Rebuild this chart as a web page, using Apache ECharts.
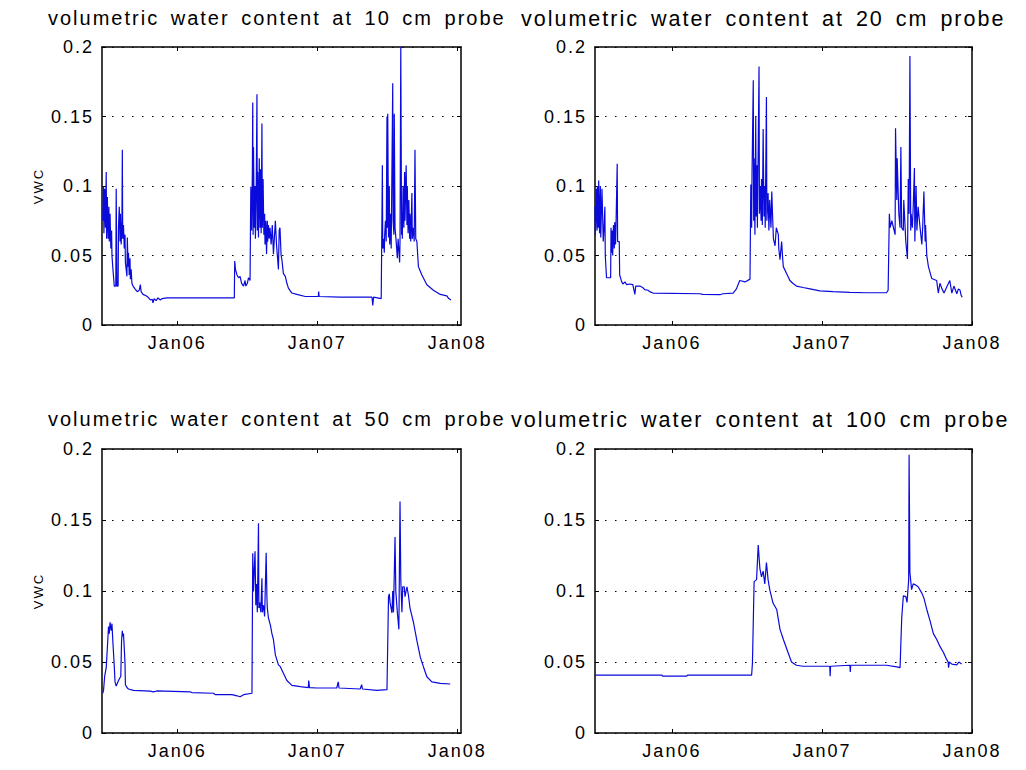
<!DOCTYPE html>
<html>
<head>
<meta charset="utf-8">
<script src="https://cdn.jsdelivr.net/npm/echarts@6/dist/echarts.min.js"></script>
<style>
  html, body { margin: 0; padding: 0; background: #fff; }
  #main { width: 1026px; height: 770px; }
  #main text { letter-spacing: 2px; word-spacing: 4px; }
</style>
</head>
<body>
<div id="main"></div>
<script>
// volumetric water content (date, VWC)
var vwc10 = [
  ['2005-06-21',0.075],['2005-06-23',0.100],['2005-06-24',0.066],['2005-06-26',0.098],['2005-06-28',0.070],
  ['2005-06-30',0.110],['2005-07-01',0.062],['2005-07-03',0.092],['2005-07-05',0.062],['2005-07-07',0.085],
  ['2005-07-08',0.060],['2005-07-10',0.080],['2005-07-12',0.055],['2005-07-14',0.068],['2005-07-15',0.050],
  ['2005-07-17',0.042],['2005-07-19',0.035],['2005-07-21',0.028],['2005-07-25',0.028],['2005-07-26',0.098],
  ['2005-07-27',0.060],['2005-07-28',0.028],['2005-07-31',0.028],['2005-08-01',0.070],['2005-08-03',0.085],
  ['2005-08-05',0.060],['2005-08-06',0.080],['2005-08-08',0.058],['2005-08-10',0.075],['2005-08-11',0.126],
  ['2005-08-12',0.062],['2005-08-14',0.072],['2005-08-16',0.055],['2005-08-18',0.065],['2005-08-19',0.045],
  ['2005-08-21',0.040],['2005-08-23',0.035],['2005-08-24',0.063],['2005-08-26',0.042],['2005-08-27',0.052],
  ['2005-08-29',0.036],['2005-08-31',0.048],['2005-09-01',0.033],['2005-09-03',0.040],['2005-09-05',0.030],
  ['2005-09-08',0.028],['2005-09-13',0.026],['2005-09-19',0.024],['2005-09-24',0.025],['2005-09-27',0.029],
  ['2005-09-29',0.024],['2005-10-04',0.022],['2005-10-12',0.021],['2005-10-17',0.020],['2005-10-23',0.018],
  ['2005-10-28',0.0185],['2005-10-30',0.016],['2005-11-02',0.019],['2005-11-07',0.0175],['2005-11-12',0.0195],
  ['2005-11-18',0.018],['2005-11-23',0.019],['2005-12-05',0.0195],['2006-05-27',0.0195],['2006-05-30',0.0195],
  ['2006-05-31',0.046],['2006-06-02',0.040],['2006-06-06',0.036],['2006-06-10',0.034],['2006-06-14',0.035],
  ['2006-06-18',0.030],['2006-06-23',0.028],['2006-06-27',0.032],['2006-06-29',0.028],['2006-07-03',0.030],
  ['2006-07-06',0.034],['2006-07-10',0.032],['2006-07-12',0.0995],['2006-07-14',0.068],['2006-07-16',0.110],
  ['2006-07-17',0.160],['2006-07-18',0.065],['2006-07-19',0.128],['2006-07-21',0.070],['2006-07-23',0.100],
  ['2006-07-24',0.062],['2006-07-26',0.095],['2006-07-28',0.166],['2006-07-29',0.068],['2006-07-30',0.110],
  ['2006-08-01',0.063],['2006-08-03',0.120],['2006-08-05',0.070],['2006-08-06',0.112],['2006-08-08',0.066],
  ['2006-08-10',0.145],['2006-08-11',0.070],['2006-08-13',0.105],['2006-08-15',0.065],['2006-08-17',0.080],
  ['2006-08-18',0.058],['2006-08-20',0.075],['2006-08-22',0.051],['2006-08-24',0.075],['2006-08-25',0.060],
  ['2006-08-27',0.072],['2006-08-29',0.062],['2006-08-31',0.070],['2006-09-03',0.058],['2006-09-06',0.072],
  ['2006-09-09',0.051],['2006-09-14',0.075],['2006-09-17',0.058],['2006-09-22',0.040],['2006-09-24',0.068],
  ['2006-09-26',0.070],['2006-09-29',0.050],['2006-10-01',0.047],['2006-10-05',0.037],['2006-10-10',0.035],
  ['2006-10-14',0.030],['2006-10-18',0.0265],['2006-10-27',0.023],['2006-11-09',0.022],['2006-12-01',0.0205],
  ['2007-01-04',0.0205],['2007-01-05',0.024],['2007-01-06',0.0205],['2007-03-02',0.020],['2007-05-24',0.020],
  ['2007-05-26',0.014],['2007-05-28',0.020],['2007-06-17',0.019],['2007-06-20',0.115],['2007-06-21',0.055],
  ['2007-06-23',0.062],['2007-06-25',0.052],['2007-06-26',0.065],['2007-06-28',0.075],['2007-06-30',0.060],
  ['2007-07-02',0.150],['2007-07-03',0.070],['2007-07-04',0.152],['2007-07-06',0.063],['2007-07-08',0.100],
  ['2007-07-09',0.058],['2007-07-11',0.080],['2007-07-13',0.055],['2007-07-17',0.174],['2007-07-18',0.075],
  ['2007-07-20',0.065],['2007-07-21',0.152],['2007-07-23',0.070],['2007-07-26',0.060],['2007-07-29',0.048],
  ['2007-07-31',0.062],['2007-08-04',0.045],['2007-08-05',0.060],['2007-08-07',0.200],['2007-08-09',0.065],
  ['2007-08-10',0.080],['2007-08-11',0.062],['2007-08-13',0.100],['2007-08-15',0.070],['2007-08-17',0.110],
  ['2007-08-18',0.075],['2007-08-21',0.115],['2007-08-23',0.072],['2007-08-24',0.100],['2007-08-26',0.066],
  ['2007-08-28',0.090],['2007-08-30',0.062],['2007-08-31',0.080],['2007-09-02',0.060],['2007-09-05',0.095],
  ['2007-09-06',0.062],['2007-09-09',0.070],['2007-09-11',0.060],['2007-09-13',0.126],['2007-09-15',0.062],
  ['2007-09-18',0.060],['2007-09-22',0.042],['2007-09-25',0.040],['2007-10-01',0.036],['2007-10-14',0.029],
  ['2007-10-31',0.025],['2007-11-18',0.022],['2007-12-05',0.021],['2007-12-10',0.019],['2007-12-16',0.018]
];

var vwc20 = [
  ['2005-06-28',0.085],['2005-06-29',0.065],['2005-07-01',0.098],['2005-07-03',0.068],['2005-07-04',0.100],
  ['2005-07-06',0.070],['2005-07-07',0.104],['2005-07-09',0.066],['2005-07-11',0.100],['2005-07-12',0.063],
  ['2005-07-15',0.098],['2005-07-18',0.060],['2005-07-20',0.070],['2005-07-22',0.085],['2005-07-23',0.050],
  ['2005-07-26',0.034],['2005-08-05',0.034],['2005-08-06',0.070],['2005-08-07',0.052],['2005-08-09',0.068],
  ['2005-08-10',0.050],['2005-08-12',0.072],['2005-08-14',0.055],['2005-08-15',0.074],['2005-08-17',0.058],
  ['2005-08-18',0.070],['2005-08-21',0.116],['2005-08-22',0.060],['2005-08-26',0.060],['2005-08-27',0.036],
  ['2005-09-01',0.031],['2005-09-04',0.0295],['2005-09-09',0.031],['2005-09-13',0.029],['2005-09-21',0.0295],
  ['2005-09-28',0.029],['2005-10-03',0.022],['2005-10-05',0.028],['2005-10-15',0.028],['2005-10-22',0.027],
  ['2005-10-27',0.0255],['2005-11-04',0.025],['2005-11-08',0.024],['2005-11-16',0.023],['2006-03-10',0.0225],
  ['2006-03-17',0.022],['2006-04-28',0.0218],['2006-05-05',0.0225],['2006-05-30',0.023],['2006-06-07',0.026],
  ['2006-06-15',0.032],['2006-06-28',0.031],['2006-07-10',0.033],['2006-07-12',0.101],['2006-07-14',0.070],
  ['2006-07-15',0.110],['2006-07-18',0.176],['2006-07-19',0.075],['2006-07-20',0.120],['2006-07-22',0.065],
  ['2006-07-24',0.150],['2006-07-25',0.078],['2006-07-27',0.115],['2006-07-28',0.070],['2006-08-01',0.186],
  ['2006-08-02',0.080],['2006-08-04',0.100],['2006-08-06',0.075],['2006-08-07',0.105],['2006-08-09',0.072],
  ['2006-08-11',0.141],['2006-08-13',0.078],['2006-08-15',0.100],['2006-08-16',0.070],['2006-08-19',0.164],
  ['2006-08-20',0.075],['2006-08-23',0.095],['2006-08-25',0.068],['2006-08-27',0.090],['2006-08-30',0.070],
  ['2006-09-01',0.096],['2006-09-03',0.078],['2006-09-05',0.062],['2006-09-09',0.057],['2006-09-12',0.070],
  ['2006-09-17',0.065],['2006-09-18',0.055],['2006-09-21',0.047],['2006-09-25',0.060],['2006-09-27',0.050],
  ['2006-09-29',0.042],['2006-10-07',0.037],['2006-10-15',0.032],['2006-10-22',0.030],['2006-10-31',0.028],
  ['2006-11-16',0.027],['2006-12-03',0.026],['2006-12-27',0.0245],['2007-01-28',0.024],['2007-03-10',0.0235],
  ['2007-04-20',0.0232],['2007-06-07',0.0232],['2007-06-11',0.025],['2007-06-14',0.080],['2007-06-16',0.070],
  ['2007-06-20',0.075],['2007-06-28',0.065],['2007-06-29',0.1415],['2007-07-02',0.090],['2007-07-03',0.120],
  ['2007-07-07',0.080],['2007-07-10',0.070],['2007-07-12',0.128],['2007-07-14',0.070],['2007-07-18',0.068],
  ['2007-07-19',0.090],['2007-07-24',0.060],['2007-07-28',0.0475],['2007-07-30',0.105],['2007-08-01',0.080],
  ['2007-08-03',0.1935],['2007-08-05',0.068],['2007-08-06',0.080],['2007-08-09',0.070],['2007-08-11',0.085],
  ['2007-08-14',0.113],['2007-08-15',0.060],['2007-08-18',0.100],['2007-08-20',0.068],['2007-08-23',0.085],
  ['2007-08-27',0.072],['2007-09-01',0.058],['2007-09-03',0.070],['2007-09-06',0.096],['2007-09-09',0.060],
  ['2007-09-10',0.072],['2007-09-13',0.050],['2007-09-17',0.042],['2007-09-25',0.0335],['2007-10-07',0.032],
  ['2007-10-11',0.023],['2007-10-15',0.030],['2007-10-20',0.026],['2007-10-25',0.023],['2007-10-31',0.027],
  ['2007-11-08',0.032],['2007-11-13',0.023],['2007-11-18',0.028],['2007-11-25',0.0225],['2007-11-29',0.026],
  ['2007-12-03',0.025],['2007-12-05',0.022],['2007-12-08',0.020]
];

var vwc50 = [
  ['2005-06-21',0.028],['2005-06-23',0.030],['2005-06-26',0.040],['2005-06-30',0.046],['2005-07-03',0.060],
  ['2005-07-06',0.075],['2005-07-08',0.070],['2005-07-10',0.078],['2005-07-13',0.072],['2005-07-15',0.077],
  ['2005-07-17',0.066],['2005-07-21',0.047],['2005-07-23',0.036],['2005-07-26',0.033],['2005-07-29',0.035],
  ['2005-08-01',0.037],['2005-08-07',0.040],['2005-08-09',0.065],['2005-08-11',0.072],['2005-08-12',0.068],
  ['2005-08-14',0.070],['2005-08-16',0.060],['2005-08-18',0.049],['2005-08-19',0.034],['2005-08-23',0.032],
  ['2005-08-27',0.031],['2005-09-09',0.030],['2005-10-23',0.0295],['2005-10-31',0.029],['2005-11-09',0.0296],
  ['2006-02-04',0.029],['2006-02-08',0.0285],['2006-04-06',0.028],['2006-04-10',0.027],['2006-05-24',0.027],
  ['2006-06-06',0.0262],['2006-06-14',0.0255],['2006-06-23',0.027],['2006-07-15',0.028],['2006-07-17',0.1265],
  ['2006-07-19',0.100],['2006-07-21',0.115],['2006-07-23',0.128],['2006-07-25',0.090],['2006-07-27',0.105],
  ['2006-07-29',0.085],['2006-08-01',0.1477],['2006-08-02',0.088],['2006-08-04',0.092],['2006-08-07',0.085],
  ['2006-08-10',0.109],['2006-08-11',0.085],['2006-08-14',0.090],['2006-08-17',0.082],['2006-08-21',0.127],
  ['2006-08-23',0.095],['2006-08-24',0.088],['2006-08-27',0.081],['2006-09-01',0.076],['2006-09-05',0.070],
  ['2006-09-09',0.0657],['2006-09-14',0.055],['2006-09-22',0.048],['2006-09-27',0.0467],['2006-10-05',0.042],
  ['2006-10-14',0.037],['2006-10-27',0.0335],['2006-11-18',0.0326],['2006-12-09',0.032],['2006-12-10',0.037],
  ['2006-12-12',0.032],['2006-12-31',0.0317],['2007-02-21',0.0317],['2007-02-25',0.036],['2007-02-27',0.0317],
  ['2007-04-23',0.031],['2007-04-27',0.034],['2007-04-29',0.031],['2007-06-06',0.030],['2007-07-02',0.0305],
  ['2007-07-06',0.096],['2007-07-08',0.098],['2007-07-10',0.092],['2007-07-15',0.0845],['2007-07-17',0.100],
  ['2007-07-19',0.085],['2007-07-23',0.138],['2007-07-25',0.100],['2007-07-29',0.085],['2007-08-02',0.073],
  ['2007-08-05',0.163],['2007-08-07',0.108],['2007-08-10',0.085],['2007-08-12',0.103],['2007-08-16',0.103],
  ['2007-08-18',0.096],['2007-08-23',0.103],['2007-08-27',0.097],['2007-08-31',0.088],['2007-09-09',0.078],
  ['2007-09-18',0.065],['2007-09-27',0.0533],['2007-10-05',0.0467],['2007-10-14',0.0396],['2007-10-27',0.036],
  ['2007-11-18',0.035],['2007-12-14',0.0345]
];

var vwc100 = [
  ['2005-06-28',0.0408],['2005-12-07',0.0408],['2005-12-10',0.040],['2006-02-06',0.040],['2006-02-08',0.0408],
  ['2006-07-14',0.0408],['2006-07-16',0.0495],['2006-07-20',0.1066],['2006-07-26',0.108],['2006-07-30',0.1324],
  ['2006-08-03',0.116],['2006-08-07',0.110],['2006-08-11',0.114],['2006-08-15',0.105],['2006-08-19',0.120],
  ['2006-08-23',0.108],['2006-08-27',0.101],['2006-09-04',0.0915],['2006-09-13',0.087],['2006-09-21',0.073],
  ['2006-09-29',0.066],['2006-10-11',0.0563],['2006-10-19',0.050],['2006-10-31',0.0477],['2006-11-16',0.047],
  ['2006-12-27',0.047],['2007-01-20',0.047],['2007-01-21',0.040],['2007-01-22',0.047],['2007-03-10',0.0477],
  ['2007-03-11',0.043],['2007-03-12',0.0477],['2007-06-07',0.0477],['2007-07-02',0.0466],['2007-07-10',0.046],
  ['2007-07-14',0.0807],['2007-07-18',0.0966],['2007-07-24',0.096],['2007-07-27',0.092],['2007-07-31',0.108],
  ['2007-08-01',0.196],['2007-08-03',0.113],['2007-08-07',0.101],['2007-08-11',0.105],['2007-08-15',0.1045],
  ['2007-08-23',0.103],['2007-09-01',0.0985],['2007-09-06',0.095],['2007-09-13',0.087],['2007-09-21',0.079],
  ['2007-09-29',0.070],['2007-10-07',0.066],['2007-10-15',0.061],['2007-10-23',0.057],['2007-10-31',0.052],
  ['2007-11-04',0.050],['2007-11-05',0.046],['2007-11-07',0.050],['2007-11-13',0.0485],['2007-11-25',0.048],
  ['2007-11-30',0.050],['2007-12-07',0.0485]
];

var tickDates = ['2006-01-01', '2007-01-01', '2008-01-01'];
var rangeLeft = ['2005-06-19', '2008-01-11'];
var rangeRight = ['2005-06-28', '2008-01-01'];

function ts(s) { return Date.parse(s + 'T00:00:00Z'); }
function toPoints(arr) { return arr.map(function (p) { return [ts(p[0]), p[1]]; }); }
function monLabel(v) { return 'Jan' + String(new Date(v).getUTCFullYear()).slice(2); }

var font = 'Liberation Sans, Arial, Helvetica, sans-serif';
var ticks = tickDates.map(ts);

var panels = [
  { title: 'volumetric water content at 10 cm probe', data: vwc10, range: rangeLeft, box: [102, 47, 359, 278], at: [43, 3], fs: 20, vwc: true },
  { title: 'volumetric water content at 20 cm probe', data: vwc20, range: rangeRight, box: [595, 47, 377, 278], at: [516, 3], fs: 21.5, vwc: false },
  { title: 'volumetric water content at 50 cm probe', data: vwc50, range: rangeLeft, box: [102, 449, 359, 284], at: [43, 404], fs: 20, vwc: true },
  { title: 'volumetric water content at 100 cm probe', data: vwc100, range: rangeRight, box: [595, 449, 377, 284], at: [506, 404], fs: 21.5, vwc: false }
];

var axisLine = { show: true, onZero: false, lineStyle: { color: '#000', width: 1.5 } };
var tickStyle = { color: '#000', width: 1 };

var option = { animation: false, backgroundColor: '#fff', title: [], grid: [], xAxis: [], yAxis: [], series: [] };

panels.forEach(function (p, i) {
  option.title.push({
    text: p.title, left: p.at[0], top: p.at[1],
    textStyle: { fontSize: p.fs, fontWeight: 'normal', color: '#000', fontFamily: font }
  });
  option.grid.push({ left: p.box[0], top: p.box[1], width: p.box[2], height: p.box[3], outerBoundsMode: 'none' });
  var xmin = ts(p.range[0]), xmax = ts(p.range[1]);
  // bottom axis with labels, top axis just for the mirrored ticks
  option.xAxis.push({
    type: 'value', gridIndex: i, position: 'bottom', min: xmin, max: xmax,
    axisLine: axisLine,
    axisTick: { show: true, inside: true, length: 4, customValues: ticks, lineStyle: tickStyle },
    axisLabel: { show: true, customValues: ticks, formatter: monLabel, color: '#000', fontSize: 18, fontFamily: font, margin: 9 },
    splitLine: { show: false }
  });
  option.xAxis.push({
    type: 'value', gridIndex: i, position: 'top', min: xmin, max: xmax,
    axisLine: axisLine,
    axisTick: { show: true, inside: true, length: 4, customValues: ticks, lineStyle: tickStyle },
    axisLabel: { show: false },
    splitLine: { show: false }
  });
  option.yAxis.push({
    type: 'value', gridIndex: i, position: 'left', min: 0, max: 0.2, interval: 0.05,
    name: p.vwc ? 'VWC' : '', nameLocation: 'middle', nameGap: 57,
    nameTextStyle: { fontSize: 13, color: '#000', fontFamily: font },
    axisLine: axisLine,
    axisTick: { show: true, inside: true, length: 4, lineStyle: tickStyle },
    axisLabel: { color: '#000', fontSize: 18, fontFamily: font, margin: 8 },
    splitLine: { show: true, lineStyle: { color: '#000', width: 1.2, type: [1.5, 8.5] } }
  });
  option.yAxis.push({
    type: 'value', gridIndex: i, position: 'right', min: 0, max: 0.2, interval: 0.05,
    axisLine: axisLine,
    axisTick: { show: true, inside: true, length: 4, lineStyle: tickStyle },
    axisLabel: { show: false },
    splitLine: { show: false }
  });
  option.series.push({
    type: 'line', xAxisIndex: 2 * i, yAxisIndex: 2 * i,
    data: toPoints(p.data), showSymbol: false, symbol: 'none',
    lineStyle: { color: '#0a0adc', width: 1.2 }
  });
});

var chart = echarts.init(document.getElementById('main'), null, { renderer: 'svg' });
chart.setOption(option);
</script>
</body>
</html>
